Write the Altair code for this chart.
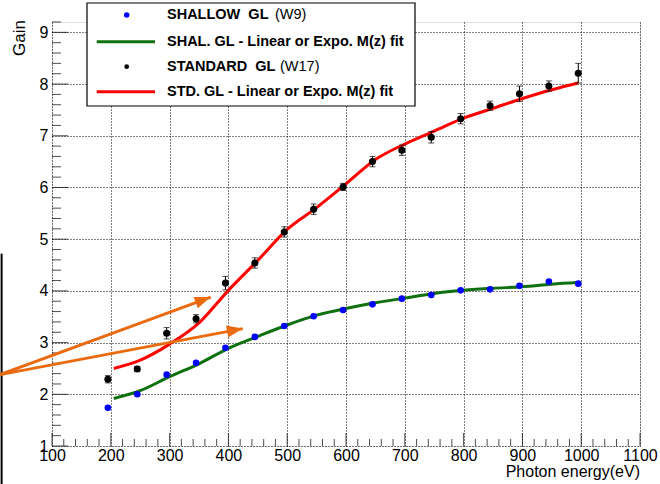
import altair as alt
import pandas as pd

# ---- measured gain vs photon energy -------------------------------------
energy = [195, 245, 295, 345, 395, 445, 495, 545, 595, 645, 695, 745, 795, 845, 895, 945, 995]
shallow_gain = [1.74, 2.00, 2.38, 2.61, 2.90, 3.11, 3.32, 3.51, 3.63, 3.74, 3.85, 3.92, 4.01, 4.03, 4.10, 4.18, 4.14]
standard_gain = [2.29, 2.49, 3.18, 3.46, 4.15, 4.54, 5.14, 5.58, 6.01, 6.50, 6.72, 6.97, 7.33, 7.58, 7.81, 7.96, 8.21]
standard_err = [0.07, 0.05, 0.11, 0.08, 0.13, 0.10, 0.10, 0.10, 0.07, 0.10, 0.10, 0.11, 0.10, 0.09, 0.15, 0.10, 0.19]

# ---- fitted M(z) curves ---------------------------------------------------
fit_energy = [205, 250, 300, 350, 400, 450, 500, 550, 600, 650, 700, 750, 800, 850, 900, 950, 995]
shallow_fit = [1.92, 2.07, 2.34, 2.59, 2.89, 3.12, 3.34, 3.53, 3.66, 3.77, 3.86, 3.95, 4.01, 4.05, 4.08, 4.13, 4.16]
standard_fit = [2.50, 2.66, 2.97, 3.38, 4.01, 4.59, 5.19, 5.61, 6.07, 6.54, 6.84, 7.09, 7.34, 7.53, 7.72, 7.89, 8.02]

# ---- annotation arrows (data coordinates) --------------------------------
arrow_x0 = [11.7, 11.7]
arrow_y0 = [2.38, 2.38]
arrow_x1 = [370.0, 424.5]
arrow_y1 = [3.88, 3.27]
arrow_angle = [339.8, 349.3]

# ---- axis ticks ---------------------------------------------------------
x_major = [100, 200, 300, 400, 500, 600, 700, 800, 900, 1000, 1100]
x_minor = [v for v in range(100, 1101, 20) if v % 100 != 0]
y_major = [1, 2, 3, 4, 5, 6, 7, 8, 9]
y_minor = [round(1 + 0.2 * i, 1) for i in range(0, 42) if i % 5 != 0]

legend_labels = [
    "SHALLOW\u00a0\u00a0GL",
    "SHAL. GL - Linear or Expo. M(z) fit",
    "STANDARD\u00a0\u00a0GL",
    "STD. GL - Linear or Expo. M(z) fit",
]
legend_tags = ["(W9)", "(W17)"]

W, H = 588, 424
FONT = "Liberation Sans"
BLUE, GREEN, RED, ORANGE = "#0000ff", "#0e700e", "#ff0000", "#ea6a10"

xs = alt.Scale(domain=[100, 1100], nice=False, zero=False)
ys = alt.Scale(domain=[1, 9.2], nice=False, zero=False)

XAX = alt.Axis(values=x_major, format="d", grid=True, gridDash=[1, 2], gridColor="#000", gridOpacity=1,
               ticks=False, domain=False, labelFont=FONT, labelFontSize=16, labelColor="#000",
               labelBaseline="middle", labelPadding=9, labelFlush=False, labelOverlap=False, title=None)
YAX = alt.Axis(values=y_major, format="d", grid=True, gridDash=[1, 2], gridColor="#000", gridOpacity=1,
               ticks=False, domain=False, labelFont=FONT, labelFontSize=16, labelColor="#000",
               labelPadding=4, labelOverlap=False, title=None)


def X(field):
    return alt.X(field, type="quantitative", scale=xs, axis=XAX)


def Y(field):
    return alt.Y(field, type="quantitative", scale=ys, axis=YAX)


one = pd.DataFrame({"k": [0]})

pts = pd.DataFrame({"e": energy, "sh": shallow_gain, "st": standard_gain, "err": standard_err})
pts["lo"] = pts["st"] - pts["err"]
pts["hi"] = pts["st"] + pts["err"]
caps = pd.concat([pd.DataFrame({"e": energy, "g": pts["lo"]}),
                  pd.DataFrame({"e": energy, "g": pts["hi"]})])
fits = pd.DataFrame({"e": fit_energy, "sh": shallow_fit, "st": standard_fit})
arrows = pd.DataFrame({"x0": arrow_x0, "y0": arrow_y0, "x1": arrow_x1, "y1": arrow_y1, "a": arrow_angle})

# inward-pointing ticks along the bottom and left edges
xt_major = alt.Chart(pd.DataFrame({"v": x_major})).mark_tick(
    orient="vertical", color="#000", thickness=1, size=13).encode(x=X("v"), y=alt.value(H - 6.5))
xt_minor = alt.Chart(pd.DataFrame({"v": x_minor})).mark_tick(
    orient="vertical", color="#000", thickness=1, size=7).encode(x=X("v"), y=alt.value(H - 3.5))
yt_major = alt.Chart(pd.DataFrame({"v": y_major})).mark_tick(
    orient="horizontal", color="#000", thickness=1, size=16).encode(y=Y("v"), x=alt.value(8))
yt_minor = alt.Chart(pd.DataFrame({"v": y_minor})).mark_tick(
    orient="horizontal", color="#000", thickness=1, size=9).encode(y=Y("v"), x=alt.value(4.5))

# curves
green_line = alt.Chart(fits).mark_line(color=GREEN, strokeWidth=3, interpolate="monotone").encode(
    x=X("e"), y=Y("sh"))
red_line = alt.Chart(fits).mark_line(color=RED, strokeWidth=3, interpolate="monotone").encode(
    x=X("e"), y=Y("st"))

# measured points
blue_pts = alt.Chart(pts).mark_point(filled=True, shape="circle", size=44, color=BLUE, opacity=1).encode(
    x=X("e"), y=Y("sh"))
err_bars = alt.Chart(pts).mark_rule(color="#000", strokeWidth=1).encode(x=X("e"), y=Y("lo"), y2="hi")
err_caps = alt.Chart(caps).mark_tick(orient="horizontal", color="#000", thickness=1, size=6).encode(
    x=X("e"), y=Y("g"))
black_pts = alt.Chart(pts).mark_point(filled=True, shape="circle", size=50, color="#000", opacity=1).encode(
    x=X("e"), y=Y("st"))

# annotation arrows
arrow_shaft = alt.Chart(arrows).mark_rule(color=ORANGE, strokeWidth=3).encode(
    x=X("x0"), y=Y("y0"), x2="x1", y2="y1")
arrow_head = alt.Chart(arrows).mark_point(
    filled=True, opacity=1, color=ORANGE, size=1024, shape="M0,0L-1,-0.38L-1,0.38Z").encode(
    x=X("x1"), y=Y("y1"), angle=alt.Angle("a:Q", scale=None))

edge_line = alt.Chart(pd.DataFrame({"x": [14.3], "y": [4.72], "y2": [0.2]})).mark_rule(
    color="#000", strokeWidth=2).encode(x=X("x"), y=Y("y"), y2="y2")

# axis titles
x_title = alt.Chart(one).mark_text(text="Photon energy(eV)", font=FONT, fontSize=16, align="right",
                                   baseline="alphabetic", color="#000").encode(
    x=alt.value(W), y=alt.value(H + 31))
y_title = alt.Chart(one).mark_text(text="Gain", font=FONT, fontSize=17, align="center",
                                   baseline="alphabetic", angle=270, color="#000").encode(
    x=alt.value(-27.5), y=alt.value(16))

# legend box
LX0, LX1, LY0, LY1 = 35, 363, -19, 84
rows = [-7, 19.7, 44.7, 69.7]
leg_box = alt.Chart(one).mark_rect(fill="white", stroke="#000", strokeWidth=1.2).encode(
    x=alt.value(LX0), x2=alt.value(LX1), y=alt.value(LY0), y2=alt.value(LY1))
leg_blue = alt.Chart(one).mark_point(filled=True, shape="circle", size=30, color=BLUE, opacity=1).encode(
    x=alt.value(74.7), y=alt.value(rows[0]))
leg_green = alt.Chart(one).mark_rule(color=GREEN, strokeWidth=3).encode(
    x=alt.value(44.7), x2=alt.value(103), y=alt.value(rows[1]))
leg_black = alt.Chart(one).mark_point(filled=True, shape="circle", size=22, color="#000", opacity=1).encode(
    x=alt.value(74.7), y=alt.value(rows[2]))
leg_red = alt.Chart(one).mark_rule(color=RED, strokeWidth=3).encode(
    x=alt.value(44.7), x2=alt.value(103), y=alt.value(rows[3]))

leg_texts = []
for lbl, ry in zip(legend_labels, rows):
    leg_texts.append(alt.Chart(one).mark_text(
        text=lbl, font=FONT, fontSize=14.5, fontWeight="bold", align="left", baseline="middle",
        color="#000").encode(x=alt.value(115), y=alt.value(ry)))
for tag, tx, ry in zip(legend_tags, [223, 228], [rows[0], rows[2]]):
    leg_texts.append(alt.Chart(one).mark_text(
        text=tag, font=FONT, fontSize=14.5, align="left", baseline="middle",
        color="#000").encode(x=alt.value(tx), y=alt.value(ry)))

chart = alt.layer(
    xt_minor, xt_major, yt_minor, yt_major,
    edge_line,
    green_line, red_line,
    err_bars, err_caps, blue_pts, black_pts,
    arrow_shaft, arrow_head,
    x_title, y_title,
    leg_box, leg_blue, leg_green, leg_black, leg_red, *leg_texts,
).properties(
    width=W, height=H,
    autosize=alt.AutoSizeParams(type="none"),
    padding={"left": 52, "top": 22, "right": 20, "bottom": 38},
).configure_view(
    stroke="#666", strokeWidth=1.2, fill="white"
).configure(background="white")

chart.save("out.html", embed_options={"renderer": "svg", "actions": False})
